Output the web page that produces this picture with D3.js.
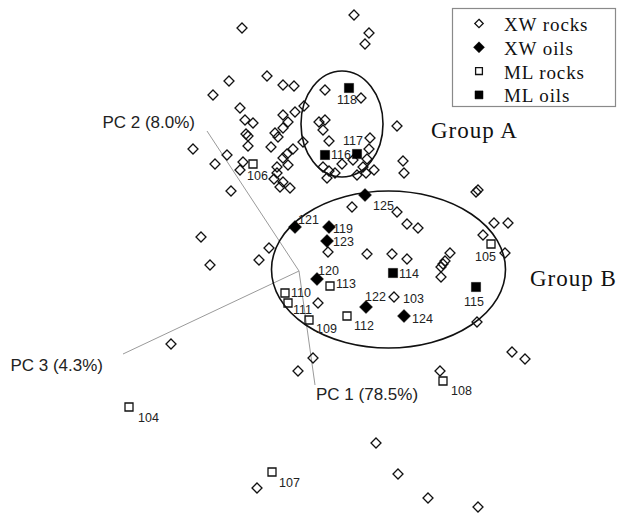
<!DOCTYPE html>
<html>
<head>
<meta charset="utf-8">
<script src="https://cdn.jsdelivr.net/npm/d3@7"></script>
<style>
  html, body { margin: 0; padding: 0; background: #fff; }
  svg { display: block; }
</style>
</head>
<body>
<script>
// PCA scores projected onto the viewing plane: [score x, score y, sample label]
const xwRocks = [
  [1.375, 6.4, ""], [1.75, 5.95, ""], [1.65, 5.675, ""], [-1.425, 6.075, ""],
  [-0.8, 4.875, ""], [-1.75, 4.75, ""], [-0.4, 4.65, ""], [-0.125, 4.625, ""],
  [-2.15, 4.4, ""], [0.65, 4.525, ""], [1.55, 4.325, ""], [-1.475, 4.075, ""],
  [0.125, 4.125, ""], [-0.1, 3.975, ""], [-1.35, 3.775, ""], [-1.15, 3.7, ""],
  [-0.4, 3.9, ""], [-0.275, 3.725, ""], [-0.4, 3.575, ""], [-0.6, 3.45, ""],
  [-0.525, 3.35, ""], [0.5, 3.725, ""], [0.65, 3.775, ""], [0.6, 3.525, ""],
  [2.45, 3.625, ""], [-1.325, 3.425, ""], [-1.275, 3.375, ""], [-1.275, 3.125, ""],
  [-2.65, 3.05, ""], [-1.8, 2.9, ""], [-2.1, 2.675, ""], [-1.4, 2.725, ""],
  [-1.475, 2.525, ""], [-1.7, 2.0, ""], [-0.7, 3.1, ""], [-0.15, 3.05, ""],
  [-0.3, 2.925, ""], [-0.4, 2.825, ""], [-0.275, 2.65, ""], [-0.55, 2.6, ""],
  [-0.55, 2.45, ""], [-0.625, 2.3, ""], [-0.4, 2.225, ""], [-0.475, 2.1, ""],
  [-0.225, 2.075, ""], [0.1, 3.225, ""], [0.75, 3.25, ""], [1.775, 3.325, ""],
  [1.75, 3.05, ""], [1.7, 2.8, ""], [1.35, 2.775, ""], [1.075, 2.675, ""],
  [0.6, 2.6, ""], [0.75, 2.5, ""], [0.9, 2.45, ""], [0.7, 2.325, ""],
  [1.45, 2.4, ""], [1.6, 2.6, ""], [1.675, 2.45, ""], [1.875, 2.525, ""],
  [2.6, 2.75, ""], [2.625, 2.45, ""], [1.325, 1.6, ""], [2.45, 1.475, ""],
  [2.7, 1.175, ""], [2.975, 1.075, ""], [0.725, 0.475, ""], [1.7, 0.425, ""],
  [2.325, 0.425, ""], [2.7, 0.3, ""], [3.775, 0.45, ""], [3.65, 0.25, ""],
  [3.6, 0.175, ""], [3.55, 0.1, ""], [3.55, -0.15, ""], [-0.75, 0.575, ""],
  [-1.0, 0.275, ""], [0.475, -0.8, ""], [4.45, -1.275, ""], [4.875, 1.2, ""],
  [5.225, 1.2, ""], [4.6, 0.9, ""], [5.15, 0.45, ""], [4.425, 1.975, ""],
  [4.475, 2.025, ""], [-2.45, 0.85, ""], [-2.225, 0.15, ""], [0.35, -2.175, ""],
  [-0.025, -2.5, ""], [-3.2, -1.825, ""], [3.525, -2.5, ""], [5.325, -2.025, ""],
  [5.65, -2.2, ""], [1.925, -4.3, ""], [2.475, -5.075, ""], [3.225, -5.675, ""],
  [4.475, -5.9, ""], [-1.05, -5.425, ""], [2.375, -0.65, "103"]
];

const xwOils = [
  [1.65, 1.9, "125"], [-0.1, 1.1, "121"], [0.75, 1.1, "119"], [0.7, 0.75, "123"],
  [0.45, -0.2, "120"], [1.675, -0.9, "122"], [2.625, -1.125, "124"]
];

const mlRocks = [
  [-1.15, 2.675, "106"], [0.775, -0.375, "113"], [-0.35, -0.55, "110"],
  [-0.275, -0.8, "111"], [0.25, -1.225, "109"], [1.2, -1.125, "112"],
  [4.8, 0.675, "105"], [-4.25, -3.4, "104"], [-0.675, -5.025, "107"],
  [3.6, -2.75, "108"]
];

const mlOils = [
  [1.25, 4.575, "118"], [0.65, 2.9, "116"], [1.45, 2.925, "117"],
  [2.35, -0.05, "114"], [4.425, -0.4, "115"]
];

// Principal component axes drawn from the common origin
const pcAxes = [
  { name: "PC 1 (78.5%)", end: [0.4, -2.85] },
  { name: "PC 2 (8.0%)",  end: [-2.3, 3.5] },
  { name: "PC 3 (4.3%)",  end: [-4.4, -2.075] }
];

// Group envelopes: centre and semi-axes in score units
const groups = [
  { name: "Group A", c: [1.075, 3.675], r: [1.025, 1.325] },
  { name: "Group B", c: [2.2375, 0.0375], r: [2.925, 1.9625] }
];

const legendNames = ["XW rocks", "XW oils", "ML rocks", "ML oils"];

// ---- layout (pixels) ----
const W = 618, H = 515;
const labelOffset = {
  "118": [-12, 16], "117": [-14, -9], "116": [6, 4], "106": [-6, 16],
  "125": [8, 15], "121": [3, -3], "119": [4, 6], "123": [6, 5],
  "120": [1, -4], "113": [6, 2], "114": [6, 5], "110": [6, 4],
  "111": [5, 11], "109": [7, 13], "112": [7, 14], "122": [-1, -6],
  "103": [9, 6], "124": [8, 7], "115": [-12, 19], "105": [-16, 17],
  "104": [9, 15], "107": [7, 15], "108": [8, 14]
};
const axisLabelPos = {
  "PC 1 (78.5%)": { dx: 1, dy: 15, anchor: "start" },
  "PC 2 (8.0%)":  { dx: -12, dy: -3, anchor: "end" },
  "PC 3 (4.3%)":  { dx: -20, dy: 17, anchor: "end" }
};
const groupLabelPos = {
  "Group A": { x: 431, y: 138 },
  "Group B": { x: 530, y: 286 }
};

const x = d3.scaleLinear().domain([-7.5, 8]).range([-1, 619]);
const y = d3.scaleLinear().domain([-6, 6.8]).range([511, -1]);

const svg = d3.select("body").append("svg")
  .attr("width", W).attr("height", H)
  .attr("viewBox", `0 0 ${W} ${H}`);
svg.append("rect").attr("width", W).attr("height", H).attr("fill", "#fff");

// diamond symbol: square rotated 45 degrees, size = half-diagonal
const diamondPath = r => `M0,${-r}L${r},0L0,${r}L${-r},0Z`;
const squarePath = h => `M${-h},${-h}H${h}V${h}H${-h}Z`;

const series = [
  { data: xwRocks, path: diamondPath(5),   fill: "none", stroke: "#111", sw: 1.3, legendPath: diamondPath(4.2) },
  { data: xwOils,  path: diamondPath(6.5), fill: "#000", stroke: "#000", sw: 0.5, legendPath: diamondPath(5.5) },
  { data: mlRocks, path: squarePath(4),    fill: "none", stroke: "#111", sw: 1.3, legendPath: squarePath(3.4) },
  { data: mlOils,  path: squarePath(4.6),  fill: "#000", stroke: "#000", sw: 0.5, legendPath: squarePath(4) }
];

// PC axes
const axesG = svg.append("g");
axesG.selectAll("line").data(pcAxes).join("line")
  .attr("x1", x(0)).attr("y1", y(0))
  .attr("x2", d => x(d.end[0])).attr("y2", d => y(d.end[1]))
  .attr("stroke", "#9a9a9a").attr("stroke-width", 1);
axesG.selectAll("text").data(pcAxes).join("text")
  .attr("x", d => x(d.end[0]) + axisLabelPos[d.name].dx)
  .attr("y", d => y(d.end[1]) + axisLabelPos[d.name].dy)
  .attr("text-anchor", d => axisLabelPos[d.name].anchor)
  .attr("font-family", "'Liberation Sans', Arial, sans-serif")
  .attr("font-size", 17)
  .attr("fill", "#222")
  .text(d => d.name);

// Group envelopes
svg.append("g").selectAll("ellipse").data(groups).join("ellipse")
  .attr("cx", d => x(d.c[0])).attr("cy", d => y(d.c[1]))
  .attr("rx", d => x(d.c[0] + d.r[0]) - x(d.c[0]))
  .attr("ry", d => y(d.c[1] - d.r[1]) - y(d.c[1]))
  .attr("fill", "none").attr("stroke", "#111").attr("stroke-width", 1.6);

svg.append("g").selectAll("text").data(groups).join("text")
  .attr("x", d => groupLabelPos[d.name].x)
  .attr("y", d => groupLabelPos[d.name].y)
  .attr("font-family", "'Liberation Serif', 'Times New Roman', serif")
  .attr("font-size", 23)
  .attr("letter-spacing", 1)
  .attr("fill", "#111")
  .text(d => d.name);

// Sample markers
const markG = svg.append("g");
series.forEach(s => {
  markG.append("g").selectAll("path").data(s.data).join("path")
    .attr("d", s.path)
    .attr("transform", d => `translate(${x(d[0])},${y(d[1])})`)
    .attr("fill", s.fill).attr("stroke", s.stroke).attr("stroke-width", s.sw);
});

// Sample labels
const labelled = series.flatMap(s => s.data).filter(d => d[2] !== "");
svg.append("g").selectAll("text").data(labelled).join("text")
  .attr("x", d => x(d[0]) + labelOffset[d[2]][0])
  .attr("y", d => y(d[1]) + labelOffset[d[2]][1])
  .attr("font-family", "'Liberation Sans', Arial, sans-serif")
  .attr("font-size", 12.5)
  .attr("fill", "#222")
  .text(d => d[2]);

// Legend
const lg = svg.append("g");
lg.append("rect")
  .attr("x", 452.5).attr("y", 8.5).attr("width", 163).attr("height", 98)
  .attr("fill", "#fff").attr("stroke", "#8a8a8a").attr("stroke-width", 1.2);
const rows = lg.selectAll("g.row").data(series.map((s, i) => ({ s, name: legendNames[i], i })))
  .join("g").attr("class", "row")
  .attr("transform", d => `translate(0,${31 + d.i * 23.8})`);
rows.append("path")
  .attr("d", d => d.s.legendPath)
  .attr("transform", "translate(479,-7.5)")
  .attr("fill", d => d.s.fill).attr("stroke", d => d.s.stroke).attr("stroke-width", d => d.s.sw);
rows.append("text")
  .attr("x", 504).attr("y", 0)
  .attr("font-family", "'Liberation Serif', 'Times New Roman', serif")
  .attr("font-size", 19)
  .attr("letter-spacing", 0.9)
  .attr("fill", "#111")
  .text(d => d.name);
</script>
</body>
</html>
